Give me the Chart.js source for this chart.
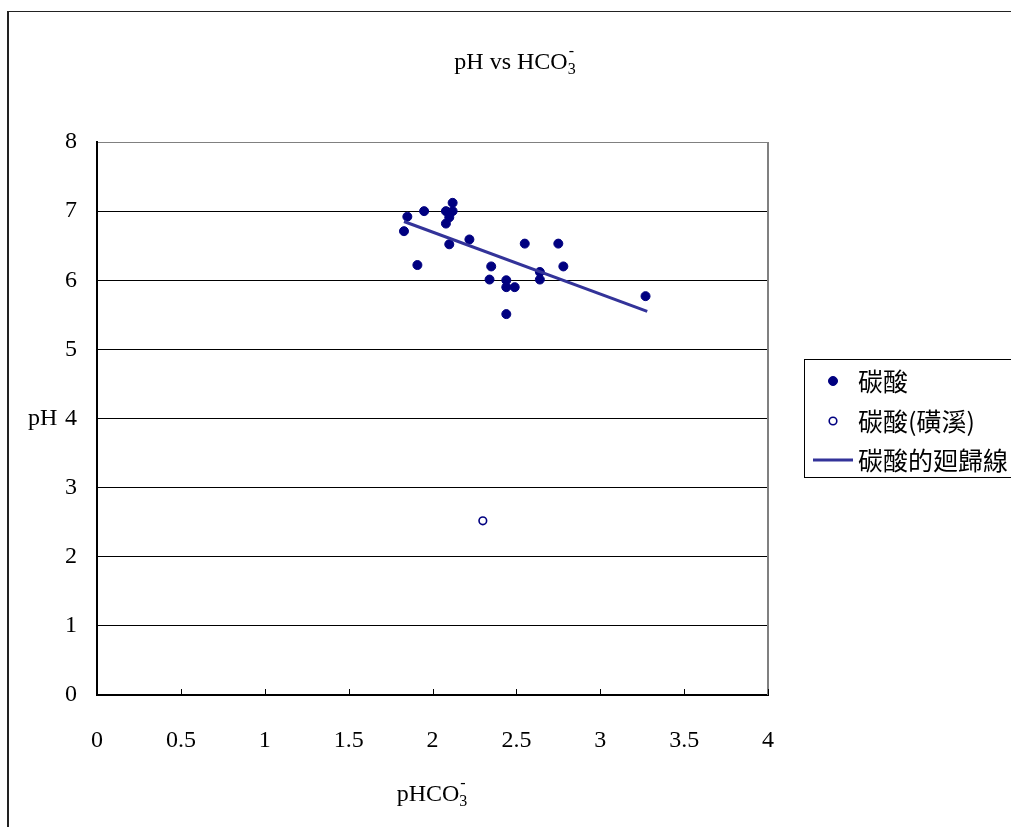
<!DOCTYPE html>
<html>
<head>
<meta charset="utf-8">
<script src="https://cdn.jsdelivr.net/npm/chart.js@4.4.1/dist/chart.umd.min.js"></script>
<style>
  html, body { margin: 0; padding: 0; background: #fff; overflow: hidden; }
  #frame { position: absolute; left: 7px; top: 11px; width: 1200px; height: 1000px;
           border-left: 2px solid #222; border-top: 1px solid #222; }
  #chart { position: absolute; left: 0; top: 0; }
</style>
</head>
<body>
<div id="frame"></div>
<canvas id="chart" width="1011" height="827"></canvas>
<script>
// carbonate samples: pHCO3- vs pH
var carbX = [1.85, 1.83, 1.95, 2.12, 2.08, 2.12, 2.10, 2.08, 2.10, 2.22, 1.91, 2.35,
             2.34, 2.44, 2.44, 2.49, 2.44, 2.55, 2.64, 2.64, 2.75, 2.78, 3.27];
var carbY = [6.92, 6.71, 7.00, 7.12, 7.00, 7.00, 6.91, 6.82, 6.52, 6.59, 6.22, 6.20,
             6.01, 6.00, 5.90, 5.90, 5.51, 6.53, 6.12, 6.01, 6.53, 6.20, 5.77];
// 磺溪 sample
var sulfX = [2.30];
var sulfY = [2.52];
// regression line end points
var regX = [1.83, 3.28];
var regY = [6.85, 5.55];

var seriesNames = ['碳酸', '碳酸(磺溪)', '碳酸的廻歸線'];
var xTicks = [0, 0.5, 1, 1.5, 2, 2.5, 3, 3.5, 4];

var FONT = "'Liberation Serif', 'Noto Sans CJK TC', serif";
var CJK = "'Noto Sans CJK TC', 'Liberation Serif', serif";

function pts(xs, ys) {
  return xs.map(function (x, i) { return {x: x, y: ys[i]}; });
}

// text with a subscript and superscript part, centred on cx
function chemText(ctx, base, sub, sup, cx, cy, size) {
  ctx.font = size + 'px ' + FONT;
  var wb = ctx.measureText(base).width;
  ctx.font = Math.round(size * 0.65) + 'px ' + FONT;
  var ws = ctx.measureText(sub).width;
  var wp = ctx.measureText(sup).width;
  var x = cx - (wb + Math.max(ws, wp)) / 2;
  ctx.textAlign = 'left';
  ctx.textBaseline = 'alphabetic';
  ctx.fillStyle = '#000';
  ctx.font = size + 'px ' + FONT;
  var base_y = cy + size * 0.33;
  ctx.fillText(base, x, base_y);
  ctx.font = Math.round(size * 0.65) + 'px ' + FONT;
  ctx.fillText(sub, x + wb, base_y + size * 0.2);
  ctx.fillText(sup, x + wb + 1, base_y - size * 0.55);
}

// extra drawing: title, plot frame, inner x ticks, "pH" label, legend box
var extras = {
  id: 'extras',
  afterDraw: function (chart) {
    var ctx = chart.ctx, a = chart.chartArea;
    var xs = chart.scales.x, ys = chart.scales.y;
    ctx.save();
    chemText(ctx, 'pH vs HCO', '3', '-', 515, 61, 24);
    // right edge of plot area
    ctx.strokeStyle = '#808080';
    ctx.lineWidth = 2;
    ctx.beginPath();
    ctx.moveTo(a.right, a.top);
    ctx.lineTo(a.right, a.bottom);
    ctx.stroke();
    // inner tick marks on x axis
    ctx.strokeStyle = '#000';
    ctx.lineWidth = 1;
    xTicks.forEach(function (v) {
      if (v === 0) return;
      var px = Math.round(xs.getPixelForValue(v)) + 0.5;
      ctx.beginPath();
      ctx.moveTo(px, a.bottom);
      ctx.lineTo(px, a.bottom - 6);
      ctx.stroke();
    });
    // y axis title, horizontal
    ctx.fillStyle = '#000';
    ctx.font = '24px ' + FONT;
    ctx.textAlign = 'left';
    ctx.textBaseline = 'middle';
    ctx.fillText('pH', 28, ys.getPixelForValue(4));
    // x axis title
    chemText(ctx, 'pHCO', '3', '-', 432, 793, 24);

    // legend
    var lx = 804.5, ly = 359.5;
    ctx.strokeStyle = '#000';
    ctx.lineWidth = 1;
    ctx.strokeRect(lx, ly, 300, 118);
    var rows = [381, 421, 460];
    chart.data.datasets.forEach(function (ds, i) {
      var y = rows[i];
      if (i === 2) {
        ctx.strokeStyle = ds.borderColor;
        ctx.lineWidth = 3;
        ctx.beginPath();
        ctx.moveTo(813, y);
        ctx.lineTo(853, y);
        ctx.stroke();
      } else {
        ctx.beginPath();
        ctx.arc(833, y, ds.pointRadius, 0, Math.PI * 2);
        ctx.fillStyle = ds.backgroundColor;
        ctx.fill();
        ctx.strokeStyle = ds.borderColor;
        ctx.lineWidth = ds.borderWidth;
        ctx.stroke();
      }
      ctx.fillStyle = '#000';
      ctx.font = '25px ' + CJK;
      ctx.textAlign = 'left';
      ctx.textBaseline = 'middle';
      ctx.fillText(ds.label, 858, y);
    });
    ctx.restore();
  }
};

var ctx = document.getElementById('chart').getContext('2d');
new Chart(ctx, {
  type: 'scatter',
  data: {
    datasets: [
      {label: seriesNames[0], data: pts(carbX, carbY), order: 1,
       backgroundColor: '#000080', borderColor: '#000080', borderWidth: 1, pointRadius: 4.5},
      {label: seriesNames[1], data: pts(sulfX, sulfY), order: 1,
       backgroundColor: '#ffffff', borderColor: '#000080', borderWidth: 1.6, pointRadius: 3.8},
      {label: seriesNames[2], data: pts(regX, regY), order: 0, type: 'line', showLine: true,
       borderColor: '#333399', borderWidth: 3, pointRadius: 0, fill: false}
    ]
  },
  options: {
    responsive: false,
    animation: false,
    events: [],
    layout: {padding: {top: 142, left: 0, right: 243, bottom: 0}},
    plugins: {
      legend: {display: false},
      tooltip: {enabled: false},
      title: {display: false}
    },
    scales: {
      x: {
        type: 'linear', min: 0, max: 4,
        afterFit: function (s) { s.height = 132; },
        afterBuildTicks: function (s) { s.ticks = xTicks.map(function (v) { return {value: v}; }); },
        ticks: {color: '#000', font: {family: FONT, size: 24}, padding: 31, maxRotation: 0,
                callback: function (v) { return String(v); }},
        grid: {display: true, drawOnChartArea: false, drawTicks: false},
        border: {display: true, color: '#000', width: 2},
        title: {display: false}
      },
      y: {
        min: 0, max: 8,
        afterFit: function (s) { s.width = 97; },
        ticks: {stepSize: 1, color: '#000', font: {family: FONT, size: 24}, padding: 20},
        grid: {color: function (c) { return c.tick && c.tick.value === 8 ? '#808080' : '#000'; },
               lineWidth: 1, drawTicks: false},
        border: {display: true, color: '#000', width: 2}
      }
    }
  },
  plugins: [extras]
});
</script>
</body>
</html>
